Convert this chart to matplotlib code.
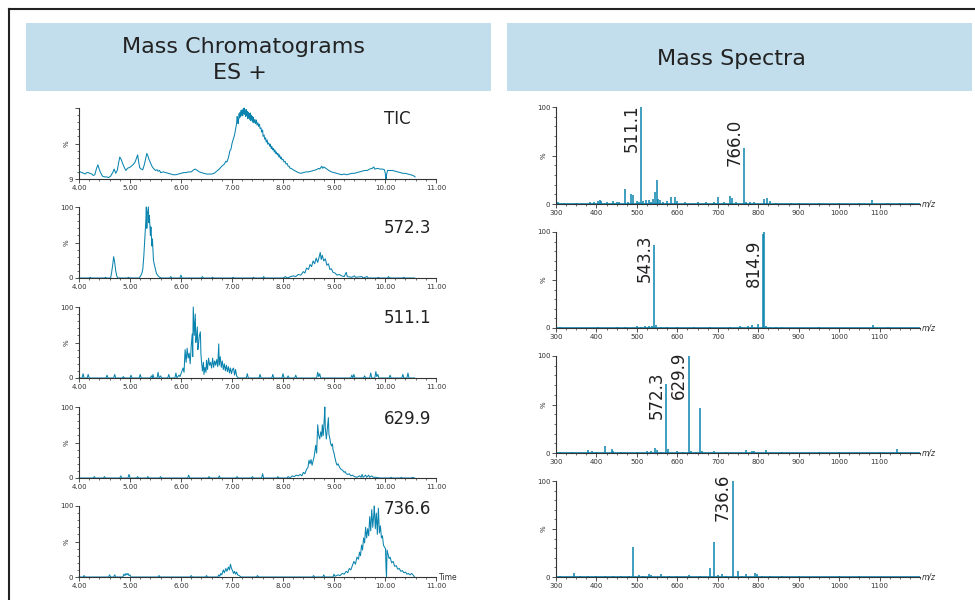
import matplotlib
matplotlib.use("Agg")
import matplotlib.pyplot as plt
from matplotlib.patches import Rectangle
from matplotlib.lines import Line2D
from matplotlib.ticker import MultipleLocator, FormatStrFormatter

# ---- chromatogram data (time in min, intensity in %) ----
tic = [(4.00, 9), (4.03, 10), (4.06, 9), (4.09, 8), (4.12, 7), (4.15, 9), (4.18, 9), (4.21, 8), (4.25, 7),
       (4.28, 5), (4.31, 6), (4.34, 14), (4.37, 20), (4.40, 13), (4.43, 8), (4.46, 4), (4.50, 3), (4.54, 3),
       (4.58, 2), (4.62, 4), (4.66, 9), (4.69, 14), (4.72, 8), (4.75, 12), (4.78, 24), (4.80, 31), (4.83, 27),
       (4.86, 21), (4.89, 16), (4.92, 12), (4.95, 15), (4.98, 16), (5.01, 17), (5.04, 19), (5.07, 21),
       (5.10, 24), (5.13, 30), (5.15, 34), (5.17, 24), (5.19, 16), (5.22, 14), (5.25, 13), (5.28, 20),
       (5.31, 30), (5.33, 36), (5.35, 33), (5.37, 28), (5.40, 23), (5.43, 18), (5.46, 15), (5.50, 12),
       (5.53, 13), (5.55, 11), (5.58, 12), (5.60, 9), (5.65, 10), (5.70, 9), (5.75, 8), (5.80, 7), (5.85, 6),
       (5.90, 6), (5.95, 7), (6.00, 8), (6.05, 9), (6.10, 9), (6.15, 10), (6.20, 10), (6.25, 13), (6.28, 14),
       (6.32, 12), (6.36, 10), (6.40, 9), (6.45, 8), (6.50, 7), (6.55, 7), (6.60, 7), (6.65, 8), (6.70, 11),
       (6.75, 14), (6.80, 18), (6.85, 21), (6.88, 25), (6.90, 24), (6.93, 30), (6.96, 40), (6.98, 42),
       (7.00, 50), (7.02, 55), (7.03, 58), (7.05, 62), (7.06, 66), (7.08, 74), (7.09, 78), (7.10, 88),
       (7.11, 85), (7.12, 78), (7.13, 84), (7.14, 92), (7.15, 86), (7.16, 94), (7.17, 88), (7.18, 97),
       (7.19, 90), (7.20, 96), (7.21, 89), (7.22, 99), (7.23, 92), (7.24, 100), (7.25, 91), (7.26, 97),
       (7.27, 88), (7.28, 98), (7.29, 90), (7.30, 95), (7.31, 85), (7.32, 94), (7.33, 86), (7.34, 92),
       (7.35, 84), (7.36, 93), (7.37, 82), (7.38, 90), (7.39, 84), (7.40, 88), (7.41, 80), (7.42, 87),
       (7.43, 79), (7.45, 84), (7.46, 78), (7.48, 83), (7.49, 76), (7.51, 79), (7.52, 74), (7.54, 77),
       (7.55, 71), (7.57, 72), (7.58, 66), (7.60, 69), (7.61, 60), (7.63, 62), (7.64, 56), (7.66, 58),
       (7.67, 52), (7.69, 55), (7.70, 49), (7.72, 51), (7.74, 46), (7.75, 49), (7.77, 43), (7.78, 46),
       (7.80, 41), (7.81, 43), (7.83, 38), (7.84, 41), (7.86, 36), (7.87, 38), (7.89, 34), (7.90, 36),
       (7.92, 31), (7.93, 34), (7.95, 29), (7.96, 31), (7.98, 27), (8.00, 28), (8.02, 24), (8.04, 25),
       (8.06, 21), (8.08, 22), (8.10, 18), (8.12, 18), (8.14, 15), (8.16, 15), (8.20, 13), (8.25, 11),
       (8.30, 9), (8.35, 8), (8.40, 9), (8.45, 10), (8.50, 10), (8.55, 11), (8.60, 12), (8.65, 13), (8.70, 15),
       (8.72, 14), (8.74, 16), (8.76, 18), (8.78, 15), (8.80, 17), (8.82, 16), (8.86, 14), (8.90, 12),
       (8.95, 10), (9.00, 9), (9.05, 8), (9.10, 7), (9.15, 6), (9.20, 7), (9.25, 6), (9.30, 7), (9.35, 8),
       (9.40, 8), (9.45, 9), (9.50, 10), (9.55, 11), (9.60, 12), (9.65, 12), (9.70, 14), (9.75, 15),
       (9.78, 17), (9.80, 14), (9.85, 15), (9.90, 14), (9.95, 14), (9.99, 13), (10.01, 6), (10.02, 0),
       (10.03, 6), (10.05, 12), (10.10, 12), (10.15, 12), (10.20, 11), (10.25, 10), (10.30, 9), (10.35, 8),
       (10.40, 8), (10.45, 7), (10.50, 6), (10.55, 5), (10.59, 3)]

xic_572 = [(4.00, 0), (4.20, 0), (4.22, 1), (4.24, 0), (4.50, 0), (4.52, 1), (4.54, 0), (4.62, 0), (4.64, 8),
           (4.66, 18), (4.68, 30), (4.70, 22), (4.72, 10), (4.74, 3), (4.76, 0), (4.95, 0), (4.97, 1),
           (4.99, 0), (5.18, 0), (5.20, 2), (5.23, 6), (5.25, 12), (5.27, 30), (5.29, 55), (5.31, 80),
           (5.32, 100), (5.33, 70), (5.34, 90), (5.36, 100), (5.37, 78), (5.38, 88), (5.40, 60), (5.41, 72),
           (5.43, 45), (5.44, 55), (5.46, 25), (5.48, 18), (5.50, 12), (5.52, 6), (5.55, 3), (5.58, 1),
           (5.62, 0), (5.78, 0), (5.80, 2), (5.82, 0), (5.98, 0), (6.00, 4), (6.02, 0), (6.40, 0), (6.42, 2),
           (6.44, 0), (6.60, 0), (6.62, 1), (6.64, 0), (7.00, 0), (7.02, 1), (7.04, 0), (7.40, 0), (7.42, 1),
           (7.44, 0), (7.60, 0), (7.62, 2), (7.64, 0), (8.00, 0), (8.05, 2), (8.08, 0), (8.15, 2), (8.20, 3),
           (8.25, 2), (8.30, 5), (8.35, 4), (8.40, 9), (8.43, 7), (8.46, 14), (8.50, 12), (8.53, 19),
           (8.56, 16), (8.59, 24), (8.62, 20), (8.65, 28), (8.68, 22), (8.71, 30), (8.73, 36), (8.75, 26),
           (8.77, 32), (8.80, 24), (8.83, 27), (8.86, 18), (8.89, 20), (8.92, 12), (8.95, 13), (8.98, 8),
           (9.02, 7), (9.06, 4), (9.10, 5), (9.15, 3), (9.20, 2), (9.24, 8), (9.26, 2), (9.35, 1), (9.40, 3),
           (9.42, 1), (9.55, 2), (9.57, 0), (9.65, 2), (9.67, 0), (9.85, 0), (9.87, 1), (9.89, 0), (10.05, 0),
           (10.07, 2), (10.09, 0), (10.35, 0), (10.37, 1), (10.39, 0), (10.58, 0)]

xic_511 = [(4.00, 0), (4.06, 0), (4.08, 6), (4.10, 0), (4.16, 0), (4.18, 5), (4.20, 0), (4.53, 0), (4.55, 4),
           (4.57, 0), (4.68, 0), (4.70, 5), (4.72, 0), (4.85, 0), (4.87, 2), (4.89, 0), (5.00, 0), (5.02, 4),
           (5.04, 0), (5.18, 0), (5.20, 5), (5.22, 0), (5.40, 0), (5.42, 3), (5.44, 0), (5.45, 5), (5.47, 0),
           (5.53, 0), (5.55, 8), (5.57, 0), (5.60, 3), (5.62, 0), (5.74, 0), (5.76, 5), (5.78, 0), (5.88, 0),
           (5.90, 7), (5.92, 0), (5.96, 4), (5.98, 2), (6.00, 6), (6.02, 10), (6.04, 14), (6.06, 8), (6.08, 40),
           (6.10, 22), (6.12, 42), (6.14, 28), (6.16, 35), (6.18, 20), (6.20, 45), (6.22, 62), (6.23, 30),
           (6.24, 100), (6.25, 80), (6.26, 60), (6.28, 90), (6.29, 50), (6.30, 55), (6.32, 72), (6.33, 40),
           (6.34, 45), (6.36, 60), (6.38, 65), (6.39, 35), (6.40, 25), (6.42, 10), (6.44, 22), (6.45, 5),
           (6.47, 15), (6.49, 8), (6.50, 25), (6.52, 12), (6.54, 28), (6.56, 18), (6.58, 22), (6.60, 14),
           (6.62, 28), (6.64, 15), (6.66, 24), (6.68, 18), (6.70, 26), (6.72, 16), (6.74, 48), (6.75, 18),
           (6.77, 30), (6.79, 15), (6.81, 24), (6.83, 12), (6.85, 20), (6.87, 10), (6.89, 18), (6.91, 9),
           (6.93, 16), (6.95, 7), (6.97, 14), (6.99, 6), (7.01, 12), (7.03, 14), (7.05, 4), (7.07, 12),
           (7.09, 3), (7.11, 1), (7.13, 0), (7.28, 0), (7.30, 6), (7.32, 0), (7.53, 0), (7.55, 5), (7.57, 0),
           (7.78, 0), (7.80, 5), (7.82, 0), (7.98, 0), (8.00, 6), (8.02, 0), (8.08, 0), (8.10, 3), (8.12, 0),
           (8.23, 0), (8.25, 4), (8.27, 0), (8.66, 0), (8.68, 8), (8.70, 2), (8.72, 6), (8.74, 0), (9.33, 0),
           (9.35, 4), (9.37, 0), (9.39, 5), (9.41, 0), (9.58, 0), (9.60, 3), (9.62, 0), (9.70, 0), (9.72, 7),
           (9.74, 0), (9.80, 0), (9.82, 9), (9.84, 2), (9.86, 5), (9.88, 0), (10.08, 0), (10.10, 4), (10.12, 0),
           (10.33, 0), (10.35, 5), (10.37, 0), (10.43, 0), (10.45, 7), (10.47, 0), (10.58, 0)]

xic_630 = [(4.00, 0), (4.28, 0), (4.30, 2), (4.32, 0), (4.48, 0), (4.50, 2), (4.52, 0), (4.80, 0), (4.82, 3),
           (4.84, 0), (4.96, 0), (4.98, 5), (5.00, 0), (5.13, 0), (5.15, 2), (5.17, 0), (5.33, 0), (5.35, 2),
           (5.37, 0), (5.58, 0), (5.60, 2), (5.62, 0), (6.13, 0), (6.15, 4), (6.17, 0), (6.53, 0), (6.55, 2),
           (6.57, 0), (6.73, 0), (6.75, 3), (6.77, 0), (7.08, 0), (7.10, 2), (7.12, 0), (7.38, 0), (7.40, 2),
           (7.42, 0), (7.58, 0), (7.60, 6), (7.62, 0), (7.88, 0), (7.90, 2), (7.92, 0), (8.08, 0), (8.10, 2),
           (8.14, 0), (8.18, 3), (8.22, 2), (8.26, 4), (8.30, 3), (8.34, 5), (8.37, 3), (8.40, 8), (8.43, 6),
           (8.46, 12), (8.49, 15), (8.51, 25), (8.53, 20), (8.55, 26), (8.57, 18), (8.59, 24), (8.61, 30),
           (8.63, 40), (8.64, 46), (8.66, 35), (8.68, 75), (8.70, 60), (8.72, 55), (8.74, 65), (8.76, 58),
           (8.77, 75), (8.79, 60), (8.81, 85), (8.82, 100), (8.83, 70), (8.85, 55), (8.87, 70), (8.89, 85),
           (8.90, 62), (8.92, 55), (8.93, 50), (8.95, 45), (8.97, 48), (8.98, 40), (9.00, 35), (9.02, 28),
           (9.04, 22), (9.06, 18), (9.08, 20), (9.11, 15), (9.14, 12), (9.17, 11), (9.20, 8), (9.22, 9),
           (9.24, 6), (9.27, 5), (9.30, 6), (9.33, 3), (9.36, 4), (9.40, 2), (9.45, 1), (9.50, 3), (9.53, 1),
           (9.55, 5), (9.57, 1), (9.62, 4), (9.64, 1), (9.68, 4), (9.70, 1), (9.74, 3), (9.77, 1), (9.82, 1),
           (9.90, 0), (10.10, 0), (10.12, 1), (10.14, 0), (10.30, 0), (10.32, 1), (10.34, 0), (10.52, 0),
           (10.54, 1), (10.58, 0)]

xic_737 = [(4.00, 0), (4.08, 0), (4.10, 2), (4.12, 0), (4.58, 0), (4.60, 3), (4.62, 0), (4.68, 0), (4.70, 3),
           (4.72, 0), (4.86, 0), (4.88, 4), (4.90, 2), (4.92, 5), (4.94, 3), (4.96, 5), (4.98, 2), (5.00, 3),
           (5.02, 0), (5.55, 0), (5.57, 2), (5.59, 0), (6.18, 0), (6.20, 2), (6.22, 0), (6.48, 0), (6.50, 2),
           (6.52, 0), (6.72, 0), (6.74, 3), (6.76, 1), (6.78, 5), (6.80, 3), (6.83, 10), (6.85, 6), (6.88, 12),
           (6.90, 8), (6.93, 14), (6.95, 10), (6.97, 18), (6.99, 12), (7.01, 9), (7.03, 5), (7.05, 8),
           (7.07, 4), (7.09, 7), (7.11, 3), (7.14, 2), (7.18, 0), (7.48, 0), (7.50, 2), (7.52, 0), (8.58, 0),
           (8.60, 2), (8.62, 0), (8.78, 0), (8.80, 3), (8.82, 0), (8.98, 0), (9.00, 4), (9.02, 1), (9.08, 3),
           (9.12, 2), (9.16, 5), (9.20, 4), (9.24, 8), (9.27, 6), (9.30, 12), (9.33, 10), (9.36, 16),
           (9.39, 22), (9.42, 18), (9.45, 28), (9.48, 25), (9.50, 35), (9.52, 30), (9.54, 45), (9.56, 38),
           (9.58, 55), (9.60, 48), (9.62, 70), (9.64, 55), (9.66, 68), (9.68, 58), (9.70, 85), (9.72, 65),
           (9.74, 95), (9.76, 70), (9.78, 88), (9.79, 100), (9.81, 68), (9.83, 90), (9.85, 60), (9.87, 97),
           (9.89, 62), (9.91, 72), (9.93, 55), (9.95, 58), (9.97, 45), (9.99, 42), (10.01, 40), (10.02, 12),
           (10.03, 0), (10.04, 38), (10.06, 32), (10.08, 26), (10.10, 28), (10.13, 20), (10.16, 22),
           (10.19, 15), (10.22, 16), (10.25, 11), (10.28, 12), (10.31, 8), (10.34, 9), (10.37, 6), (10.40, 7),
           (10.43, 4), (10.46, 5), (10.49, 3), (10.52, 5), (10.55, 3), (10.58, 0)]

chrom_traces = [tic, xic_572, xic_511, xic_630, xic_737]
chrom_names = ["TIC", "572.3", "511.1", "629.9", "736.6"]

# ---- mass spectra (m/z, relative intensity %) ----
ms1 = [(305, 2), (320, 1), (350, 1), (385, 2), (395, 2), (403, 3), (408, 4), (412, 3), (425, 2), (440, 3),
       (450, 2), (455, 2), (470, 15), (478, 2), (485, 10), (490, 9), (500, 3), (505, 2), (511, 100), (516, 3),
       (522, 4), (530, 4), (535, 2), (540, 5), (545, 12), (549, 25), (553, 5), (557, 4), (565, 2), (575, 3),
       (585, 7), (595, 7), (600, 3), (620, 2), (650, 2), (670, 2), (690, 2), (700, 7), (715, 2), (730, 8),
       (736, 6), (745, 2), (766, 58), (770, 2), (780, 2), (790, 2), (815, 5), (822, 6), (830, 3), (845, 1),
       (880, 1), (900, 1), (950, 1), (1000, 1), (1050, 1), (1082, 4), (1120, 1), (1150, 1), (1180, 1)]
ms2 = [(310, 1), (405, 1.5), (450, 1), (470, 1), (500, 2), (510, 1.5), (520, 2.5), (530, 2), (538, 2),
       (543, 86), (547, 3), (560, 1.5), (575, 1), (600, 1), (640, 1.5), (680, 1), (730, 1.5), (755, 2),
       (760, 1.5), (775, 2), (785, 3.5), (800, 4), (812, 98), (814, 100), (820, 2), (830, 1.5), (845, 1.5),
       (860, 1), (950, 1), (1085, 3.5), (1120, 1)]
ms3 = [(310, 1), (340, 1), (380, 3), (390, 2), (400, 1.5), (420, 7), (438, 4), (442, 2), (460, 1.5),
       (500, 1.5), (525, 2), (535, 2), (545, 5), (550, 3), (560, 1.5), (572, 71), (576, 4), (600, 2),
       (615, 1), (629, 100), (633, 2), (645, 1.5), (656, 46), (660, 2), (690, 2), (720, 1), (770, 3),
       (785, 2), (790, 2), (820, 3), (860, 1), (950, 1), (1000, 1), (1100, 1), (1142, 4)]
ms4 = [(310, 1), (345, 4), (360, 1), (380, 1), (400, 1), (420, 1.5), (440, 1), (460, 1.5), (480, 1),
       (491, 31), (505, 2), (515, 1.5), (530, 3), (535, 2), (560, 3), (580, 1.5), (600, 1), (630, 2),
       (655, 1), (681, 9), (691, 36), (700, 2), (710, 3), (720, 1.5), (737, 100), (750, 6), (760, 1.5),
       (770, 3), (793, 4), (797, 3), (810, 1.5), (830, 1), (860, 1), (900, 1), (1000, 1), (1050, 1)]

spectra = [ms1, ms2, ms3, ms4]
peak_labels = [[(511, "511.1"), (766, "766.0")],
               [(543, "543.3"), (814, "814.9")],
               [(572, "572.3"), (629, "629.9")],
               [(737, "736.6")]]

# ---- layout (pixels) ----
W, H = 975, 600
TEAL = "#0a84ae"
HEAD = "#c2deec"
DARK = "#222222"

chrom_rows = [(108, 179), (207, 278), (307, 378), (407, 478), (506, 577)]
chrom_name_y = [0.775, 0.634, 0.775, 0.76, 0.887]
spec_rows = [(107, 204), (232, 328), (356, 453), (481, 577)]
label_tops = [[103, 88], [97, 92], [84, 104], [108]]


def px_rect(x0, y0, x1, y1):
    return [x0 / W, 1 - y1 / H, (x1 - x0) / W, (y1 - y0) / H]


def style_axes(ax):
    for s in ["top", "right"]:
        ax.spines[s].set_visible(False)
    for s in ["left", "bottom"]:
        ax.spines[s].set_color("#333333")
        ax.spines[s].set_linewidth(0.8)
    ax.tick_params(which="major", labelsize=5, colors="#333333", length=3, width=0.6, pad=1)
    ax.tick_params(which="minor", length=1.5, width=0.5, colors="#333333")
    ax.set_ylim(0, 100)
    ax.set_yticks([0, 50, 100])
    ax.yaxis.set_minor_locator(MultipleLocator(10))
    ax.set_ylabel("%", fontsize=5, color="#333333")
    ax.yaxis.set_label_coords(-9 / (ax.get_position().width * W), 0.5)
    ax.patch.set_alpha(0)


fig = plt.figure(figsize=(W / 100, H / 100), dpi=100)

# outer frame
fig.add_artist(Line2D([9 / W, 9 / W], [0, 1 - 9 / H], transform=fig.transFigure, color=DARK, lw=1.5))
fig.add_artist(Line2D([9 / W, 1], [1 - 9 / H, 1 - 9 / H], transform=fig.transFigure, color=DARK, lw=1.5))

# header boxes
for x0, x1 in [(26, 491), (507, 972)]:
    fig.add_artist(Rectangle((x0 / W, 1 - 91 / H), (x1 - x0) / W, 68 / H,
                             transform=fig.transFigure, fc=HEAD, ec="none", zorder=0))
fig.text(244 / W, 1 - 53 / H, "Mass Chromatograms", ha="center", va="baseline", fontsize=16, color=DARK)
fig.text(240 / W, 1 - 79 / H, "ES +", ha="center", va="baseline", fontsize=16, color=DARK)
fig.text(731 / W, 1 - 65 / H, "Mass Spectra", ha="center", va="baseline", fontsize=16, color=DARK)

# chromatograms
for i, (trace, name) in enumerate(zip(chrom_traces, chrom_names)):
    top, bot = chrom_rows[i]
    ax = fig.add_axes(px_rect(79, top, 436, bot))
    t, y = zip(*trace)
    ax.plot(t, y, color=TEAL, lw=0.75, clip_on=False)
    style_axes(ax)
    ax.set_xlim(4, 11)
    ax.xaxis.set_major_locator(MultipleLocator(1))
    ax.xaxis.set_major_formatter(FormatStrFormatter("%.2f"))
    ax.xaxis.set_minor_locator(MultipleLocator(0.2))
    if name == "TIC":
        ax.set_yticklabels(["9", "", ""])
    else:
        ax.set_yticklabels(["0", "", "100"])
    ax.text(0.854, chrom_name_y[i], name, transform=ax.transAxes, ha="left", va="baseline",
            fontsize=12, color=DARK)
    if i == len(chrom_traces) - 1:
        ax.text(11.05, 0, "Time", ha="left", va="center", fontsize=5.5, color="#333333", clip_on=False)

# spectra
for i, spec in enumerate(spectra):
    top, bot = spec_rows[i]
    ax = fig.add_axes(px_rect(556, top, 920, bot))
    mz, inten = zip(*spec)
    ax.axhline(0, color=TEAL, lw=1.2, zorder=1)
    ax.vlines(mz, 0, inten, color=TEAL, lw=1.1, zorder=2, clip_on=False)
    style_axes(ax)
    ax.set_xlim(300, 1200)
    ax.set_xticks(range(300, 1200, 100))
    ax.xaxis.set_minor_locator(MultipleLocator(25))
    ax.set_yticklabels(["0", "", "100"])
    for (pk, lab), ytop in zip(peak_labels[i], label_tops[i]):
        ax.annotate(lab, xy=(pk, ytop), xytext=(-0.5, 0), textcoords="offset points",
                    rotation=90, ha="right", va="top", fontsize=12, color=DARK, annotation_clip=False)
    ax.text(1205, 0, "m/z", ha="left", va="center", fontsize=5.5, style="italic", color="#333333",
            clip_on=False)

fig.savefig("out.png", dpi=100, facecolor="white")
